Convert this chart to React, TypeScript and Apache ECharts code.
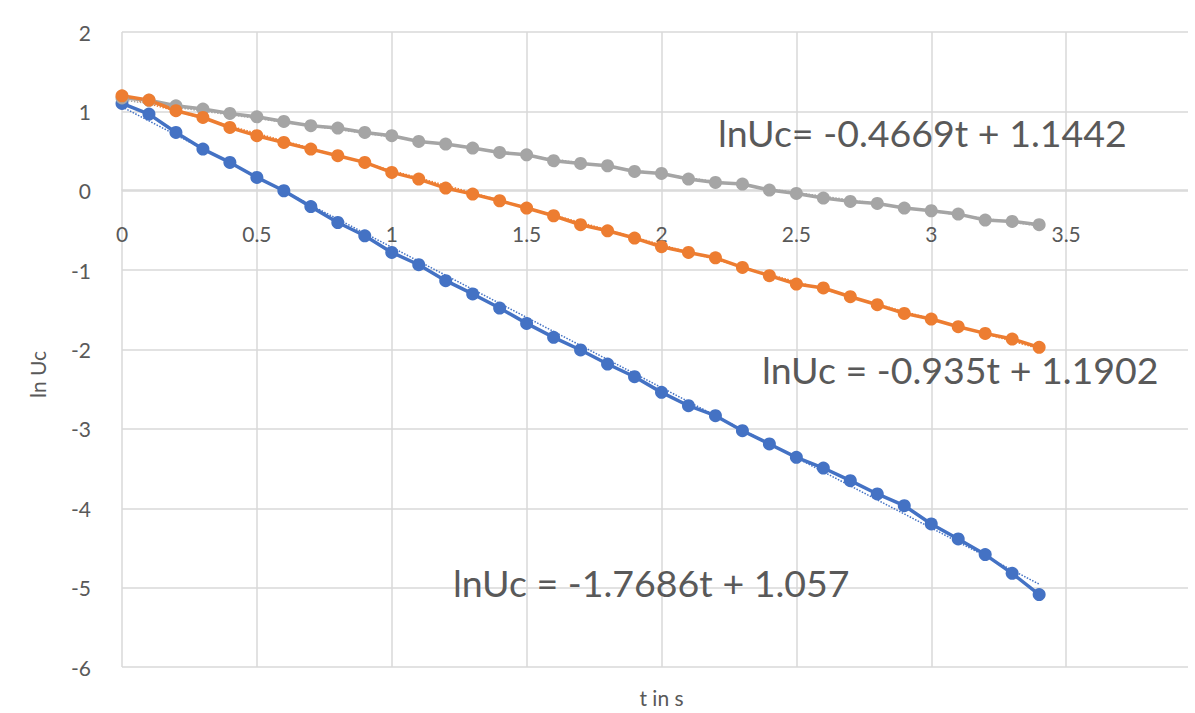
import React, { useEffect, useRef } from "react";
import * as echarts from "echarts";

const tValues = [0, 0.1, 0.2, 0.3, 0.4, 0.5, 0.6, 0.7, 0.8, 0.9, 1.0, 1.1, 1.2, 1.3, 1.4, 1.5, 1.6, 1.7, 1.8, 1.9, 2.0, 2.1, 2.2, 2.3, 2.4, 2.5, 2.6, 2.7, 2.8, 2.9, 3.0, 3.1, 3.2, 3.3, 3.4];

const blueLnUc = [1.10, 0.966, 0.734, 0.525, 0.357, 0.168, 0.0, -0.2, -0.4, -0.567, -0.777, -0.932, -1.133, -1.3, -1.478, -1.671, -1.847, -2.006, -2.183, -2.343, -2.54, -2.708, -2.834, -3.023, -3.19, -3.359, -3.493, -3.652, -3.82, -3.967, -4.198, -4.387, -4.584, -4.82, -5.088];
const orangeLnUc = [1.196, 1.142, 1.008, 0.923, 0.797, 0.693, 0.608, 0.525, 0.441, 0.357, 0.231, 0.147, 0.034, -0.042, -0.126, -0.218, -0.315, -0.428, -0.504, -0.596, -0.705, -0.777, -0.845, -0.966, -1.07, -1.175, -1.225, -1.335, -1.436, -1.545, -1.616, -1.713, -1.797, -1.868, -1.973];
const grayLnUc = [1.17, 1.14, 1.07, 1.029, 0.974, 0.932, 0.873, 0.819, 0.79, 0.734, 0.693, 0.621, 0.588, 0.538, 0.482, 0.453, 0.378, 0.344, 0.315, 0.243, 0.218, 0.147, 0.105, 0.084, 0.009, -0.034, -0.092, -0.134, -0.16, -0.218, -0.252, -0.294, -0.369, -0.386, -0.428];

// trendline end points [t, lnUc]
const blueTrend = [[0, 1.057], [3.4, -4.956]];
const orangeTrend = [[0, 1.1902], [3.4, -1.9888]];
const grayTrend = [[0, 1.1442], [3.4, -0.4433]];

const equations = [
  { text: "lnUc= -0.4669t + 1.1442", x: 718, y: 132 },
  { text: "lnUc = -0.935t + 1.1902", x: 762, y: 369 },
  { text: "lnUc = -1.7686t + 1.057", x: 453, y: 582 },
];

const COLORS = { blue: "#4472C4", orange: "#ED7D31", gray: "#A5A5A5" };
const TEXT = "#595959";
const FONT = "Lato, 'Liberation Sans', sans-serif";

function pairs(ys: number[]) {
  return tValues.map((t, i) => [t, ys[i]]);
}

export default function App() {
  const ref = useRef<HTMLDivElement>(null);
  useEffect(() => {
    if (!ref.current) return;
    const chart = echarts.init(ref.current, undefined, { renderer: "svg" });
    const dataSeries = (name: string, ys: number[], color: string) => ({
      name,
      type: "line",
      data: pairs(ys),
      symbol: "circle",
      symbolSize: 13,
      lineStyle: { color, width: 3.5 },
      itemStyle: { color },
      z: 3,
    });
    const trendSeries = (name: string, d: number[][], color: string) => ({
      name,
      type: "line",
      data: d,
      symbol: "none",
      lineStyle: { color, width: 1.5, type: "dotted" },
      z: 2,
    });
    chart.setOption({
      animation: false,
      textStyle: { fontFamily: FONT },
      grid: { left: 122, top: 32, right: 14, bottom: 46, containLabel: false, outerBoundsMode: "none" },
      xAxis: {
        type: "value",
        min: 0,
        max: 4,
        interval: 0.5,
        position: "bottom",
        offset: -477,
        name: "t in s",
        nameLocation: "middle",
        nameGap: 497,
        nameTextStyle: { color: TEXT, fontSize: 21, fontFamily: FONT },
        axisLine: { show: true, onZero: false, lineStyle: { color: "#d9d9d9", width: 1.5 } },
        axisTick: { show: false },
        axisLabel: { color: TEXT, fontSize: 21, margin: 33, fontFamily: FONT, showMaxLabel: false },
        splitLine: { show: true, lineStyle: { color: "#d9d9d9", width: 1.5 } },
      },
      yAxis: {
        type: "value",
        min: -6,
        max: 2,
        interval: 1,
        name: "ln Uc",
        nameLocation: "middle",
        nameGap: 74,
        nameTextStyle: { color: TEXT, fontSize: 21, fontFamily: FONT, padding: [0, 50, 0, 0] },
        axisLine: { show: false, onZero: false },
        axisTick: { show: false },
        axisLabel: { color: TEXT, fontSize: 21, margin: 31, fontFamily: FONT },
        splitLine: { show: true, lineStyle: { color: "#d9d9d9", width: 1.5 } },
      },
      series: [
        trendSeries("blue trend", blueTrend, COLORS.blue),
        trendSeries("gray trend", grayTrend, COLORS.gray),
        trendSeries("orange trend", orangeTrend, COLORS.orange),
        dataSeries("blue", blueLnUc, COLORS.blue),
        dataSeries("gray", grayLnUc, COLORS.gray),
        dataSeries("orange", orangeLnUc, COLORS.orange),
      ],
      graphic: equations.map((e) => ({
        type: "text",
        left: e.x,
        top: e.y - 19,
        style: { text: e.text, fill: TEXT, font: `37.5px ${FONT}` },
        z: 10,
      })),
    });
    return () => chart.dispose();
  }, []);
  return (
    <div style={{ position: "fixed", left: 0, top: 0, width: 1188, height: 713, overflow: "hidden", background: "#fff" }}>
      <div ref={ref} style={{ width: 1215, height: 713 }} />
    </div>
  );
}
